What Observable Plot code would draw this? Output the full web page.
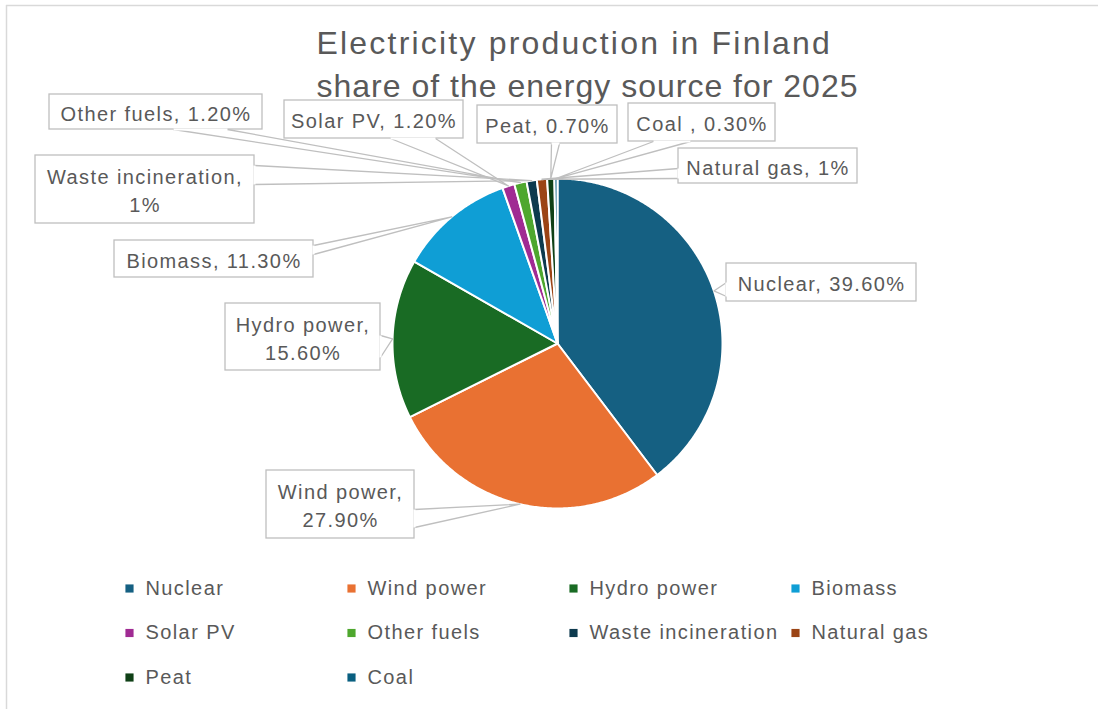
<!DOCTYPE html>
<html><head><meta charset="utf-8">
<script src="https://cdn.jsdelivr.net/npm/d3@7"></script>
<script src="https://cdn.jsdelivr.net/npm/@observablehq/plot@0.6"></script>
<style>
body{margin:0;background:#fff}
#chart svg text{letter-spacing:1.4px}
</style></head><body><div id="chart"></div>
<script>
// ---- data ----
const sources = ["Nuclear","Wind power","Hydro power","Biomass","Solar PV","Other fuels","Waste incineration","Natural gas","Peat","Coal"];
const shares = [39.6,27.9,15.6,11.3,1.2,1.2,1,1,0.7,0.3];
const shareLabels = ["39.60%","27.90%","15.60%","11.30%","1.20%","1.20%","1%","1%","0.70%","0.30%"];
const labelNames = ["Nuclear","Wind power","Hydro power","Biomass","Solar PV","Other fuels","Waste incineration","Natural gas","Peat","Coal "];
const colors = ["#156082","#E97132","#196B24","#0F9ED5","#A02B93","#4EA72E","#0D3A4E","#9B4415","#0F4016","#095F80"];
const titleLines = ["Electricity production in Finland","share of the energy source for 2025"];

// ---- layout ----
const W = 1098, H = 709, cx = 557, cy = 343, R = 165;
const titleSpacing = [2.2, 1.0];
const boxes = [
  {x1:726,y1:263,x2:916,y2:301,b:[[726,282],[726,296]],wrap:false},
  {x1:266,y1:470,x2:414,y2:538,b:[[414,509],[414,527]],wrap:true},
  {x1:225,y1:303,x2:380,y2:370,b:[[380,335],[380,357]],wrap:true},
  {x1:114,y1:240,x2:313,y2:277,b:[[313,245],[313,254]],wrap:false},
  {x1:284,y1:100,x2:463,y2:138,b:[[390,138],[435,138]],wrap:false},
  {x1:49,y1:94,x2:262,y2:129,b:[[173,129],[227,129]],wrap:false},
  {x1:35,y1:155,x2:254,y2:223,b:[[254,165],[254,184]],wrap:true},
  {x1:678,y1:148,x2:857,y2:183,b:[[678,168],[678,178]],wrap:false},
  {x1:477,y1:105,x2:617,y2:143,b:[[551,143],[559,143]],wrap:false},
  {x1:628,y1:103,x2:775,y2:141,b:[[653,141],[690,141]],wrap:false}
];

const data = sources.map((s,i)=>({name:s, share:shares[i], i}));
const arcs = d3.pie().sort(null).value(d=>d.share)(data);
const wedgePts = arcs.flatMap(a=>{
  const n = Math.max(2, Math.ceil((a.endAngle-a.startAngle)/0.01));
  const pts = [{name:a.data.name,x:cx,y:cy}];
  for(let k=0;k<=n;k++){
    const t = a.startAngle+(a.endAngle-a.startAngle)*k/n;
    pts.push({name:a.data.name,x:cx+R*Math.sin(t),y:cy-R*Math.cos(t)});
  }
  return pts;
});
const tips = arcs.map(a=>{const m=(a.startAngle+a.endAngle)/2; return [cx+R*Math.sin(m), cy-R*Math.cos(m)];});
const pointerPts = boxes.flatMap((b,i)=>[
  {k:i,x:b.b[0][0],y:b.b[0][1]},{k:i,x:tips[i][0],y:tips[i][1]},{k:i,x:b.b[1][0],y:b.b[1][1]}
]);
const labels = boxes.map((b,i)=>({
  x:(b.x1+b.x2)/2, y:(b.y1+b.y2)/2,
  text: labelNames[i] + (b.wrap ? ",\n" : ", ") + shareLabels[i]
}));
const legend = sources.map((s,i)=>({name:s, col:i%4, row:Math.floor(i/4)}));
const lx0 = 129, lcol = 222, ly0 = 588, lrow = 44.5;

const chart = Plot.plot({
  width: W, height: H, margin: 0,
  x: {domain:[0,W], range:[0,W], axis:null},
  y: {domain:[0,H], range:[0,H], axis:null},
  color: {domain: sources, range: colors},
  style: {fontFamily: "'Liberation Sans', Arial, sans-serif", background: "#fff"},
  marks: [
    Plot.ruleY([5], {x1:6, x2:W, stroke:"#d9d9d9", strokeWidth:1.5}),
    Plot.ruleX([6], {y1:5, y2:H, stroke:"#d9d9d9", strokeWidth:1.5}),
    Plot.text(titleLines, {x:316, y:(d,i)=>[53,96][i], text:d=>d, textAnchor:"start", lineAnchor:"bottom", fontSize:32, fill:"#595959"}),
    Plot.line(wedgePts, {x:"x", y:"y", z:"name", fill:"name", stroke:"white", strokeWidth:2, curve:"linear-closed"}),
    Plot.line(pointerPts, {x:"x", y:"y", z:"k", stroke:"#bfbfbf", strokeWidth:1.3}),
    Plot.rect(boxes, {x1:"x1", x2:"x2", y1:"y1", y2:"y2", fill:"white", stroke:"#bfbfbf", strokeWidth:1.3}),
    Plot.link(boxes, {x1:d=>d.b[0][0], y1:d=>d.b[0][1], x2:d=>d.b[1][0], y2:d=>d.b[1][1], stroke:"white", strokeWidth:2.2}),
    Plot.text(labels, {x:"x", y:"y", text:"text", fontSize:20, lineHeight:1.4, fill:"#595959"}),
    Plot.dot(legend, {x:d=>lx0+d.col*lcol, y:d=>ly0+d.row*lrow, symbol:"square", r:4.6, fill:"name"}),
    Plot.text(legend, {x:d=>lx0+16+d.col*lcol, y:d=>ly0+d.row*lrow, text:"name", textAnchor:"start", fontSize:20, fill:"#595959"})
  ]
});
d3.select(chart).selectAll("text").each(function(){
  const k = titleLines.indexOf(this.textContent);
  if (k >= 0) this.style.letterSpacing = titleSpacing[k] + "px";
});
document.getElementById("chart").append(chart);
</script></body></html>
